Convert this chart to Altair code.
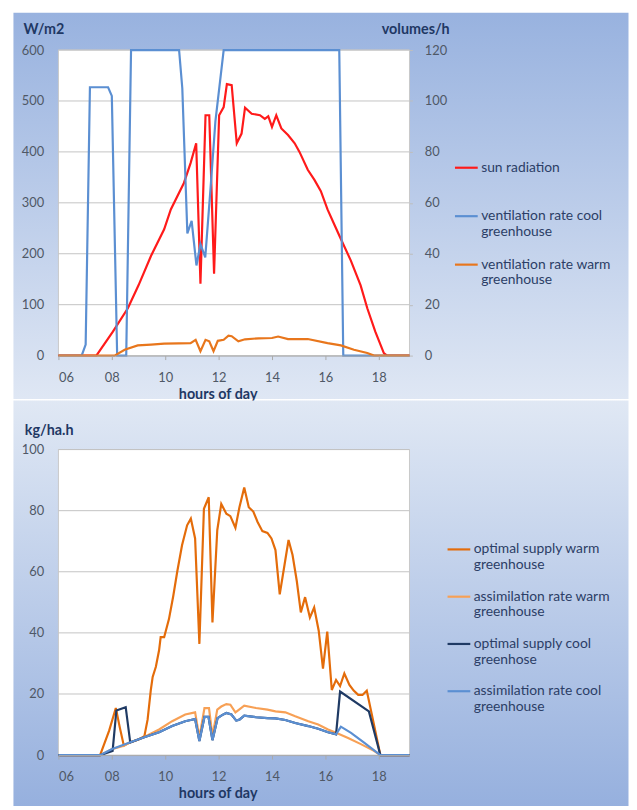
import altair as alt
import pandas as pd

# ---------------- data: top panel ----------------
# (hour of day, W/m2)
sun_radiation = [(6.0, 0), (7.42, 0), (8.04, 47), (8.6, 93), (9.0, 138), (9.47, 196), (9.96, 248),
                 (10.21, 287), (10.7, 339), (10.95, 378), (11.16, 417), (11.32, 141), (11.51, 472),
                 (11.65, 472), (11.83, 161), (12.02, 472), (12.19, 488), (12.31, 533), (12.49, 531),
                 (12.68, 417), (12.86, 436), (12.99, 487), (13.24, 475), (13.55, 472), (13.73, 465),
                 (13.86, 470), (14.0, 449), (14.16, 472), (14.35, 446), (14.6, 433), (14.85, 417),
                 (15.03, 400), (15.34, 365), (15.59, 345), (15.83, 323), (16.08, 287), (16.33, 258),
                 (16.58, 229), (16.95, 187), (17.32, 138), (17.57, 93), (17.87, 47), (18.19, 5),
                 (18.31, 0), (19.15, 0)]
# (hour of day, volumes/h)
vent_cool = [(6.0, 0), (6.87, 0), (7.02, 4.3), (7.18, 105.4), (7.86, 105.4), (8.0, 102), (8.2, 0),
             (8.54, 0), (8.72, 120), (10.52, 120), (10.64, 105), (10.83, 48), (10.99, 52.9),
             (11.17, 35.4), (11.32, 43.8), (11.5, 38.6), (11.7, 66), (11.88, 92), (12.19, 120),
             (16.52, 120), (16.67, 0), (19.15, 0)]
vent_warm = [(6.0, 0), (8.1, 0), (8.48, 2.3), (8.97, 4.0), (9.47, 4.3), (9.96, 4.7), (10.5, 4.8),
             (10.95, 4.9), (11.14, 6.2), (11.32, 1.7), (11.51, 6.2), (11.65, 5.6), (11.81, 1.7),
             (11.97, 5.8), (12.19, 6.2), (12.37, 7.8), (12.49, 7.6), (12.74, 5.6), (12.99, 6.4),
             (13.5, 6.8), (14.0, 6.9), (14.23, 7.5), (14.6, 6.5), (15.34, 6.5), (16.08, 4.9),
             (16.58, 4.0), (17.07, 2.3), (17.57, 1.0), (17.82, 0), (19.15, 0)]

# ---------------- data: bottom panel (kg/ha.h) ----------------
opt_warm = [(6.0, 0), (7.56, 0), (7.9, 8), (8.15, 15.4), (8.3, 9), (8.45, 3.1), (8.67, 4.1),
            (9.0, 5.1), (9.22, 6.2), (9.34, 11.6), (9.46, 21.3), (9.53, 25.6), (9.65, 28.9),
            (9.77, 34.3), (9.83, 38.6), (9.96, 38.6), (10.14, 44.5), (10.3, 52), (10.45, 60),
            (10.63, 68.7), (10.82, 75.2), (10.96, 77.4), (11.12, 70.9), (11.28, 36.4), (11.45, 80.6),
            (11.63, 84.4), (11.77, 43.4), (11.95, 73.6), (12.1, 82.2), (12.29, 79), (12.44, 78.2),
            (12.63, 74.4), (12.78, 81.1), (12.96, 87.6), (13.13, 81.1), (13.3, 79.7), (13.46, 76.3),
            (13.64, 73.3), (13.83, 72.7), (13.98, 70.9), (14.13, 67.1), (14.29, 52.6), (14.47, 62.3),
            (14.62, 70.4), (14.77, 65.5), (14.93, 56.9), (15.08, 46.7), (15.24, 51.7), (15.42, 45),
            (15.58, 48.3), (15.75, 40.7), (15.91, 28.3), (16.07, 40.4), (16.24, 21.3), (16.4, 24.6),
            (16.55, 22.6), (16.71, 26.7), (16.9, 23), (17.06, 21.1), (17.23, 19.7), (17.39, 19.7),
            (17.55, 21.1), (17.7, 14.9), (18.06, 0), (19.15, 0)]
assim_warm = [(6.0, 0), (7.56, 0), (8.0, 1.9), (8.45, 3.1), (8.67, 4.1), (9.16, 5.7), (9.77, 8.4),
              (10.26, 11.1), (10.75, 13.3), (11.12, 14.0), (11.28, 5.7), (11.47, 15.4), (11.64, 15.4),
              (11.77, 6.2), (11.95, 14.9), (12.1, 15.9), (12.29, 16.7), (12.44, 16.5), (12.63, 14.0),
              (12.78, 15.0), (12.96, 16.2), (13.4, 15.4), (13.83, 14.9), (14.13, 14.3), (14.5, 14.0),
              (14.87, 12.7), (15.36, 11.1), (15.73, 10.0), (16.1, 8.4), (16.4, 7.3), (16.83, 5.7),
              (17.33, 3.6), (17.82, 1.4), (18.06, 0), (19.15, 0)]
opt_cool = [(6.0, 0), (7.56, 0), (8.03, 1.4), (8.17, 14.6), (8.52, 15.7), (8.69, 4.1), (9.16, 5.7),
            (9.77, 7.5), (10.26, 9.5), (10.75, 11.1), (11.12, 11.8), (11.28, 4.6), (11.47, 12.5),
            (11.62, 12.5), (11.77, 4.9), (11.96, 12.1), (12.13, 13.1), (12.29, 13.8), (12.48, 13.3),
            (12.66, 11.3), (12.78, 11.6), (12.96, 12.9), (13.4, 12.4), (13.83, 12.1), (14.13, 12.0),
            (14.5, 11.5), (14.87, 10.5), (15.36, 9.5), (15.73, 8.6), (16.1, 7.5), (16.4, 6.8),
            (16.55, 20.8), (17.63, 14.3), (18.06, 0), (19.15, 0)]
assim_cool = [(6.0, 0), (7.56, 0), (7.99, 1.9), (8.67, 4.1), (9.16, 5.7), (9.77, 7.5), (10.26, 9.5),
              (10.75, 11.1), (11.12, 11.8), (11.28, 4.6), (11.47, 12.5), (11.62, 12.5), (11.77, 4.9),
              (11.96, 12.1), (12.13, 13.1), (12.29, 13.8), (12.48, 13.3), (12.66, 11.3), (12.78, 11.6),
              (12.96, 12.9), (13.4, 12.4), (13.83, 12.1), (14.13, 12.0), (14.5, 11.5), (14.87, 10.5),
              (15.36, 9.5), (15.73, 8.6), (16.1, 7.5), (16.4, 6.8), (16.58, 9.3), (16.96, 7.3),
              (17.45, 4.1), (18.06, 0), (19.15, 0)]

top_names = ["sun radiation", "ventilation rate cool greenhouse", "ventilation rate warm greenhouse"]
top_colors = ["#ff1a1a", "#5b8fd2", "#e8761c"]
bot_names = ["optimal supply warm greenhouse", "assimilation rate warm greenhouse",
             "optimal supply cool greenhose", "assimilation rate cool greenhouse"]
bot_colors = ["#e46c0a", "#f7a055", "#1f3a64", "#5b8fd2"]

hour_ticks = [6, 8, 10, 12, 14, 16, 18]
wm2_ticks = [0, 100, 200, 300, 400, 500, 600]
vol_ticks = [0, 20, 40, 60, 80, 100, 120]
kg_ticks = [0, 20, 40, 60, 80, 100]

# ---------------- styling ----------------
W, H = 355, 309
FONT = "Lato"
NAVY = "#1f3864"
LABEL = "#4f5866"
GRID = "#c3c3c3"
TFS = 14.5


def frame(series):
    rows = []
    for name, pts in series:
        for h, v in pts:
            rows.append({"h": h, "v": v, "series": name})
    return pd.DataFrame(rows)


x_scale = alt.Scale(domain=[6, 19.15], nice=False, zero=False)
x_axis = alt.Axis(values=hour_ticks, labelExpr="(datum.value < 10 ? '0' : '') + datum.value",
                  title="hours of day", titleX=161, titleY=39, titleAlign="center",
                  titleBaseline="middle", titleFont=FONT, titleFontSize=TFS, titleFontWeight="bold",
                  titleColor=NAVY, labelFont=FONT, labelFontSize=13, labelColor=LABEL,
                  labelPadding=12, tickSize=4, tickColor="#a9a9a9", domainColor="#a9a9a9",
                  grid=False, zindex=1)

label_expr = ("datum.label == 'sun radiation' ? ['sun radiation', ''] : "
              "[slice(datum.label, 0, lastindexof(datum.label, ' ')), "
              "slice(datum.label, lastindexof(datum.label, ' ') + 1)]")


def legend(lx, ly, rp):
    return alt.Legend(orient="none", legendX=lx, legendY=ly, title=None, symbolType="stroke",
                      symbolSize=529, symbolStrokeWidth=2.2, labelFont=FONT, labelFontSize=14,
                      labelColor="#2c3e66", labelOffset=2, labelLimit=300, rowPadding=rp,
                      padding=0, labelExpr=label_expr, zindex=1)


dummy = pd.DataFrame({"a": [1]})


def backdrop(y0, y1, c0, c1):
    grad = alt.LinearGradient(gradient="linear", x1=0, x2=0, y1=0, y2=1,
                              stops=[alt.GradientStop(color=c0, offset=0),
                                     alt.GradientStop(color=c1, offset=1)])
    bg = alt.Chart(dummy).mark_rect(color=grad).encode(
        x=alt.value(-45.5), x2=alt.value(576.5), y=alt.value(y0), y2=alt.value(y1))
    plot_bg = alt.Chart(dummy).mark_rect(fill="white", stroke="#c8c8c8", strokeWidth=1).encode(
        x=alt.value(0), x2=alt.value(W), y=alt.value(0), y2=alt.value(H))
    return bg, plot_bg


# ---------------- top panel ----------------
top_color = alt.Scale(domain=top_names, range=top_colors)
top_leg = legend(399.5, 106, 13)

sun_df = frame([(top_names[0], sun_radiation)])
vent_df = frame([(top_names[1], vent_cool), (top_names[2], vent_warm)])
grid_top = pd.DataFrame({"v": wm2_ticks[1:]})

left_scale = alt.Scale(domain=[0, 600], nice=False)
left_axis = alt.Axis(values=wm2_ticks, title="W/m2", titleAngle=0, titleX=-35.8, titleY=-20.7,
                     titleAlign="left", titleBaseline="middle", titleFont=FONT,
                     titleFontSize=TFS, titleFontWeight="bold", titleColor=NAVY,
                     labelFont=FONT, labelFontSize=13, labelColor=LABEL, labelPadding=15,
                     ticks=False, domain=False, grid=False, zindex=1)
right_axis = alt.Axis(orient="right", values=vol_ticks, title="volumes/h", titleAngle=0,
                      titleX=-28.5, titleY=-20.7, titleAlign="left", titleBaseline="middle",
                      titleFont=FONT, titleFontSize=TFS, titleFontWeight="bold",
                      titleColor=NAVY, labelFont=FONT, labelFontSize=13, labelColor=LABEL,
                      labelPadding=12, tickSize=3, tickColor="#bdbdbd", domain=False,
                      grid=False, zindex=1)
bg1, pbg1 = backdrop(-37.7, 352.8, "#98b2df", "#dfe7f4")

grid1 = alt.Chart(grid_top).mark_rule(color=GRID, strokeWidth=1).encode(
    y=alt.Y("v:Q", scale=left_scale, axis=left_axis))
sun = alt.Chart(sun_df).mark_line(strokeWidth=2.2).encode(
    x=alt.X("h:Q", scale=x_scale, axis=x_axis),
    y=alt.Y("v:Q", scale=left_scale, axis=left_axis),
    color=alt.Color("series:N", scale=top_color, legend=top_leg))
vent = alt.Chart(vent_df).mark_line(strokeWidth=2.2).encode(
    x=alt.X("h:Q", scale=x_scale, axis=x_axis),
    y=alt.Y("v:Q", scale=alt.Scale(domain=[0, 120], nice=False), axis=right_axis),
    color=alt.Color("series:N", scale=top_color, legend=top_leg))

top = alt.layer(bg1, pbg1, alt.layer(grid1, sun), vent).resolve_scale(y="independent").properties(
    width=W, height=H)

# ---------------- bottom panel ----------------
bot_color = alt.Scale(domain=bot_names, range=bot_colors)
bot_leg = legend(392, 88, 11.8)
kg_scale = alt.Scale(domain=[0, 100], nice=False)
bg2, pbg2 = backdrop(-49.7, 360.5, "#e0e8f4", "#96b0de")
grid_bot = pd.DataFrame({"v": kg_ticks[1:]})

kg_axis = alt.Axis(values=kg_ticks, title="kg/ha.h", titleAngle=0, titleX=-34.5, titleY=-19.7,
                   titleAlign="left", titleBaseline="middle", titleFont=FONT, titleFontSize=TFS,
                   titleFontWeight="bold", titleColor=NAVY, labelFont=FONT, labelFontSize=13,
                   labelColor=LABEL, labelPadding=15, ticks=False, domain=False, grid=False,
                   zindex=1)
grid2 = alt.Chart(grid_bot).mark_rule(color=GRID, strokeWidth=1).encode(
    y=alt.Y("v:Q", scale=kg_scale, axis=kg_axis))

bot_layers = []
for name, pts in zip(bot_names, [opt_warm, assim_warm, opt_cool, assim_cool]):
    df = frame([(name, pts)])
    bot_layers.append(alt.Chart(df).mark_line(strokeWidth=2.2).encode(
        x=alt.X("h:Q", scale=x_scale, axis=x_axis),
        y=alt.Y("v:Q", scale=kg_scale, axis=kg_axis),
        color=alt.Color("series:N", scale=bot_color, legend=bot_leg)))

bottom = alt.layer(bg2, pbg2, grid2, *bot_layers).properties(width=W, height=H)

chart = alt.vconcat(top, bottom, spacing=95, bounds="flush").resolve_scale(
    x="independent", color="independent").resolve_legend(color="independent").properties(
    padding={"left": 5, "top": 0, "right": 0, "bottom": 0}).configure(
    font=FONT, background="white").configure_view(stroke=None)

chart.save("out.html", embed_options={"renderer": "svg", "actions": False})
